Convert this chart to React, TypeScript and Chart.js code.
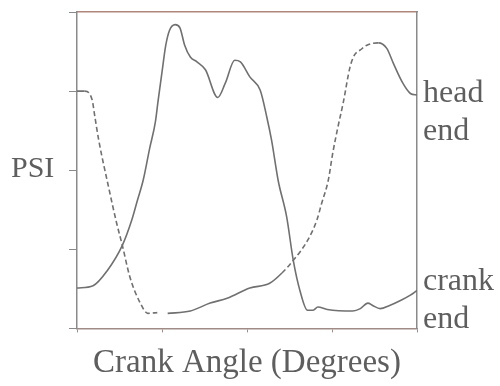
import React, { useEffect, useRef } from "react";
import { Chart, registerables } from "chart.js";

Chart.register(...registerables);

// ---------- data ----------
const X_TICKS = [0, 90, 180, 270, 360];
const Y_TICKS = [0, 1, 2, 3, 4];

const crankEndAngle = [0, 17, 32, 48, 58, 64, 70, 77, 83, 86, 90, 94, 98, 104, 109, 114, 120, 127, 136, 149, 157, 167, 173, 183, 194, 201, 206, 213, 222, 229, 236, 244, 250, 255, 265, 292, 300, 308, 313, 321, 331, 342, 353, 360];
const crankEndPsi = [0.51, 0.54, 0.73, 1.05, 1.37, 1.62, 1.87, 2.28, 2.61, 2.89, 3.24, 3.58, 3.77, 3.84, 3.8, 3.58, 3.43, 3.37, 3.27, 2.92, 3.1, 3.39, 3.37, 3.18, 3.01, 2.67, 2.38, 1.87, 1.41, 0.86, 0.48, 0.23, 0.23, 0.27, 0.24, 0.22, 0.25, 0.32, 0.29, 0.25, 0.29, 0.35, 0.42, 0.48];

const headEndAngle = [0, 8, 16, 19, 23, 33, 42, 48, 56, 67, 75, 85, 90, 96, 120, 141, 159, 183, 204, 217, 229, 244, 254, 259, 266, 271, 276, 282, 289, 294, 300, 307, 319, 328, 335, 345, 353, 360];
const headEndPsi = [3.0, 3.0, 2.89, 2.67, 2.38, 1.81, 1.33, 1.05, 0.65, 0.32, 0.19, 0.2, null, 0.19, 0.22, 0.32, 0.38, 0.51, 0.57, 0.7, 0.86, 1.11, 1.37, 1.58, 1.87, 2.23, 2.53, 2.86, 3.3, 3.46, 3.52, 3.58, 3.61, 3.54, 3.35, 3.1, 2.97, 2.95];

const X_TITLE = "Crank Angle (Degrees)";
const Y_TITLE = "PSI";
const HEAD_LABEL = ["head", "end"];
const CRANK_LABEL = ["crank", "end"];

// ---------- style ----------
const FONT = '"Liberation Serif", "DejaVu Serif", serif';
const TEXT_COLOR = "#5e5e5e";
const LINE_COLOR = "#707070";
const HEAD_DASHED_RANGES = [
  [10, 96],
  [215, 320],
];

const textPlugin = {
  id: "sideText",
  afterDraw(chart: any) {
    const { ctx, scales } = chart;
    const y = scales.y;
    const area = chart.chartArea;
    ctx.save();
    ctx.fillStyle = TEXT_COLOR;
    ctx.textAlign = "left";
    ctx.textBaseline = "alphabetic";
    ctx.font = `30px ${FONT}`;
    ctx.fillText(Y_TITLE, 11, y.getPixelForValue(2) + 7);

    ctx.font = `32px ${FONT}`;
    const lx = area.right + 6;
    const headBase = y.getPixelForValue(headEndPsi[headEndPsi.length - 1] as number) + 7;
    HEAD_LABEL.forEach((t, i) => ctx.fillText(t, lx, headBase + i * 38));
    const crankBase = y.getPixelForValue(crankEndPsi[crankEndPsi.length - 1]);
    CRANK_LABEL.forEach((t, i) => ctx.fillText(t, lx, crankBase + i * 38));
    ctx.restore();
  },
};

export default function App() {
  const ref = useRef<HTMLCanvasElement>(null);

  useEffect(() => {
    const crankData = crankEndAngle.map((x, i) => ({ x, y: crankEndPsi[i] }));
    const headData = headEndAngle.map((x, i) => ({ x, y: headEndPsi[i] }));

    const chart = new Chart(ref.current!, {
      type: "line",
      data: {
        datasets: [
          {
            label: "crank end",
            data: crankData,
            borderColor: LINE_COLOR,
            borderWidth: 1.6,
            pointRadius: 0,
            cubicInterpolationMode: "monotone",
            fill: false,
          },
          {
            label: "head end",
            data: headData as any,
            borderColor: LINE_COLOR,
            borderWidth: 1.6,
            pointRadius: 0,
            cubicInterpolationMode: "monotone",
            spanGaps: false,
            fill: false,
            segment: {
              borderDash: (ctx: any) => {
                const mid = (ctx.p0.parsed.x + ctx.p1.parsed.x) / 2;
                return HEAD_DASHED_RANGES.some(([a, b]) => mid >= a && mid <= b) ? [5, 3] : undefined;
              },
            },
          },
        ],
      },
      options: {
        responsive: false,
        animation: false,
        layout: { padding: { left: 69, right: 83, top: 12, bottom: 0 } },
        plugins: { legend: { display: false }, tooltip: { enabled: false } },
        scales: {
          x: {
            type: "linear",
            position: "bottom",
            min: 0,
            max: 360,
            afterBuildTicks: (s: any) => {
              s.ticks = X_TICKS.map((v) => ({ value: v }));
            },
            ticks: { display: false },
            grid: { display: true, drawOnChartArea: false, drawTicks: true, tickLength: 4, color: "#a08c86" },
            border: { display: true, color: "#a08c86", width: 1.5 },
            title: {
              display: true,
              text: X_TITLE,
              color: TEXT_COLOR,
              font: { family: FONT, size: 33, lineHeight: 1.2 },
              padding: { top: 11, bottom: 3 },
            },
          },
          x2: {
            type: "linear",
            position: "top",
            min: 0,
            max: 360,
            ticks: { display: false },
            grid: { display: false, drawTicks: false },
            border: { display: true, color: "#b0857a", width: 1.5 },
          },
          y: {
            type: "linear",
            position: "left",
            min: 0,
            max: 4,
            afterBuildTicks: (s: any) => {
              s.ticks = Y_TICKS.map((v) => ({ value: v }));
            },
            ticks: { display: false },
            grid: { display: true, drawOnChartArea: false, drawTicks: true, tickLength: 8, color: "#8a8a8a" },
            border: { display: true, color: "#8a8a8a", width: 1.5 },
          },
          y2: {
            type: "linear",
            position: "right",
            min: 0,
            max: 4,
            ticks: { display: false },
            grid: { display: false, drawTicks: false },
            border: { display: true, color: "#8a8a8a", width: 1.5 },
          },
        },
      },
      plugins: [textPlugin],
    });
    return () => chart.destroy();
  }, []);

  return (
    <div style={{ position: "absolute", left: 0, top: 0, width: 500, height: 386, background: "#fff" }}>
      <canvas ref={ref} width={500} height={386} style={{ display: "block" }} />
    </div>
  );
}
